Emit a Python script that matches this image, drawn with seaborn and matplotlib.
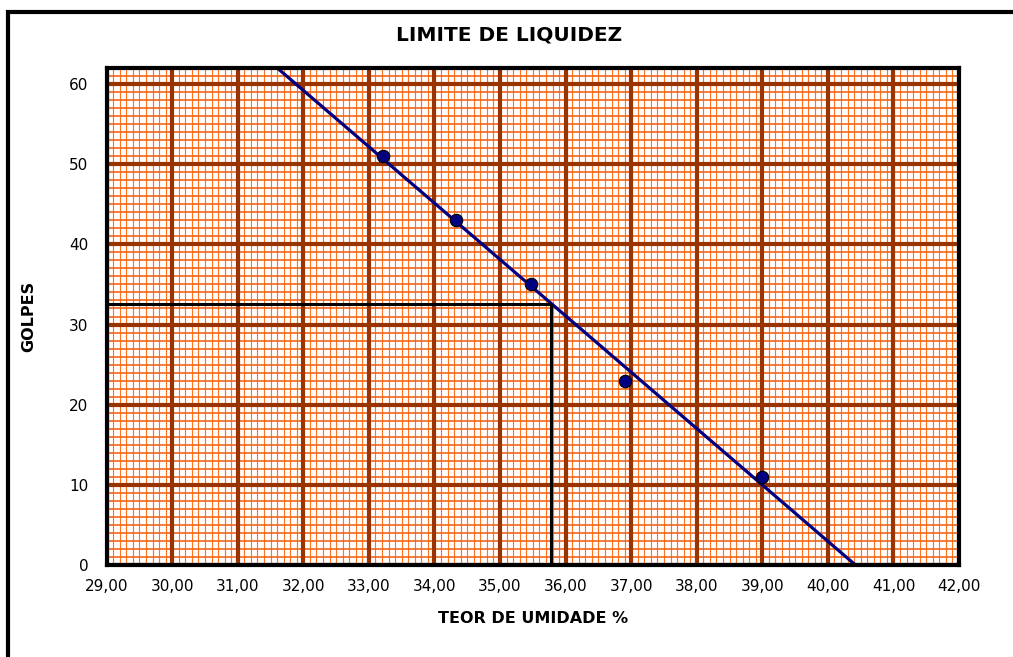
import numpy as np
import pandas as pd
import seaborn as sns
import matplotlib.pyplot as plt
from matplotlib.lines import Line2D

# pontos do ensaio (teor de umidade x numero de golpes)
teor_umidade = [33.22, 34.33, 35.47, 36.90, 39.00]
golpes = [51, 43, 35, 23, 11]

# leitura do limite de liquidez
limite_liquidez = 35.78
golpes_ref = 32.6

x_ticks = [29, 30, 31, 32, 33, 34, 35, 36, 37, 38, 39, 40, 41, 42]
x_tick_labels = ["29,00", "30,00", "31,00", "32,00", "33,00", "34,00", "35,00",
                 "36,00", "37,00", "38,00", "39,00", "40,00", "41,00", "42,00"]
y_ticks = [0, 10, 20, 30, 40, 50, 60]
y_tick_labels = ["0", "10", "20", "30", "40", "50", "60"]

df = pd.DataFrame({"umidade": teor_umidade, "golpes": golpes})

sns.set_style("white")
plt.rcParams["font.family"] = ["DejaVu Sans"]
plt.rcParams["text.color"] = "black"
plt.rcParams["axes.labelcolor"] = "black"

fig = plt.figure(figsize=(10.13, 6.57), dpi=100)
ax = fig.add_axes([0.1053, 0.140, 0.8414, 0.7565])
ax.set_xlim(29, 42)
ax.set_ylim(0, 62)

# papel milimetrado
ax.set_xticks(np.arange(29, 42.001, 0.1), minor=True)
ax.set_yticks(np.arange(0, 62.001, 1), minor=True)
ax.xaxis.grid(True, which="minor", color="#FF7420", lw=0.85)
ax.yaxis.grid(True, which="minor", color="#F06010", lw=1.15)
ax.grid(which="major", visible=False)
ax.set_axisbelow(True)
ax.vlines(x_ticks, 0, 62, color="#993300", lw=3, zorder=1)
ax.hlines(y_ticks, 29, 42, color="#993300", lw=3, zorder=1)

# linha de tendencia + pontos
sns.regplot(data=df, x="umidade", y="golpes", scatter=False, ci=None,
            truncate=False, color="#000080", line_kws={"lw": 2.3, "zorder": 3}, ax=ax)
sns.scatterplot(data=df, x="umidade", y="golpes", color="#000080", s=80,
                edgecolor="black", linewidth=0.8, zorder=5, ax=ax)

ax.hlines(golpes_ref, 29, limite_liquidez, color="black", lw=2.2, zorder=4)
ax.vlines(limite_liquidez, 0, golpes_ref, color="black", lw=2.2, zorder=4)

ax.set_xlim(29, 42)
ax.set_ylim(0, 62)
ax.set_xticks(x_ticks)
ax.set_xticklabels(x_tick_labels)
ax.set_yticks(y_ticks)
ax.set_yticklabels(y_tick_labels)
ax.tick_params(which="minor", length=0)
ax.tick_params(which="major", direction="out", length=5, width=1, color="#808080",
               labelsize=11, labelcolor="black")
ax.tick_params(axis="x", pad=5)
ax.tick_params(axis="y", pad=8)

for s in ax.spines.values():
    s.set_color("black")
    s.set_linewidth(3)
    s.set_zorder(6)

ax.set_xlabel("TEOR DE UMIDADE %", fontsize=11.5, fontweight="bold", color="black")
ax.set_ylabel("GOLPES", fontsize=11.5, fontweight="bold", color="black")
ax.xaxis.set_label_coords(0.5, -0.093)
ax.yaxis.set_label_coords(-0.083, 0.5)

fig.suptitle("LIMITE DE LIQUIDEZ", x=0.5025, y=0.9467, va="center",
             fontsize=14.5, fontweight="bold", color="black")

# moldura externa
x0 = 7.5 / 1013
y0 = 1 - 11.5 / 657
fig.add_artist(Line2D([x0, x0, 1.0], [0.0, y0, y0], transform=fig.transFigure,
                      color="black", lw=3, solid_joinstyle="miter"))

fig.savefig("out.png", dpi=100)
